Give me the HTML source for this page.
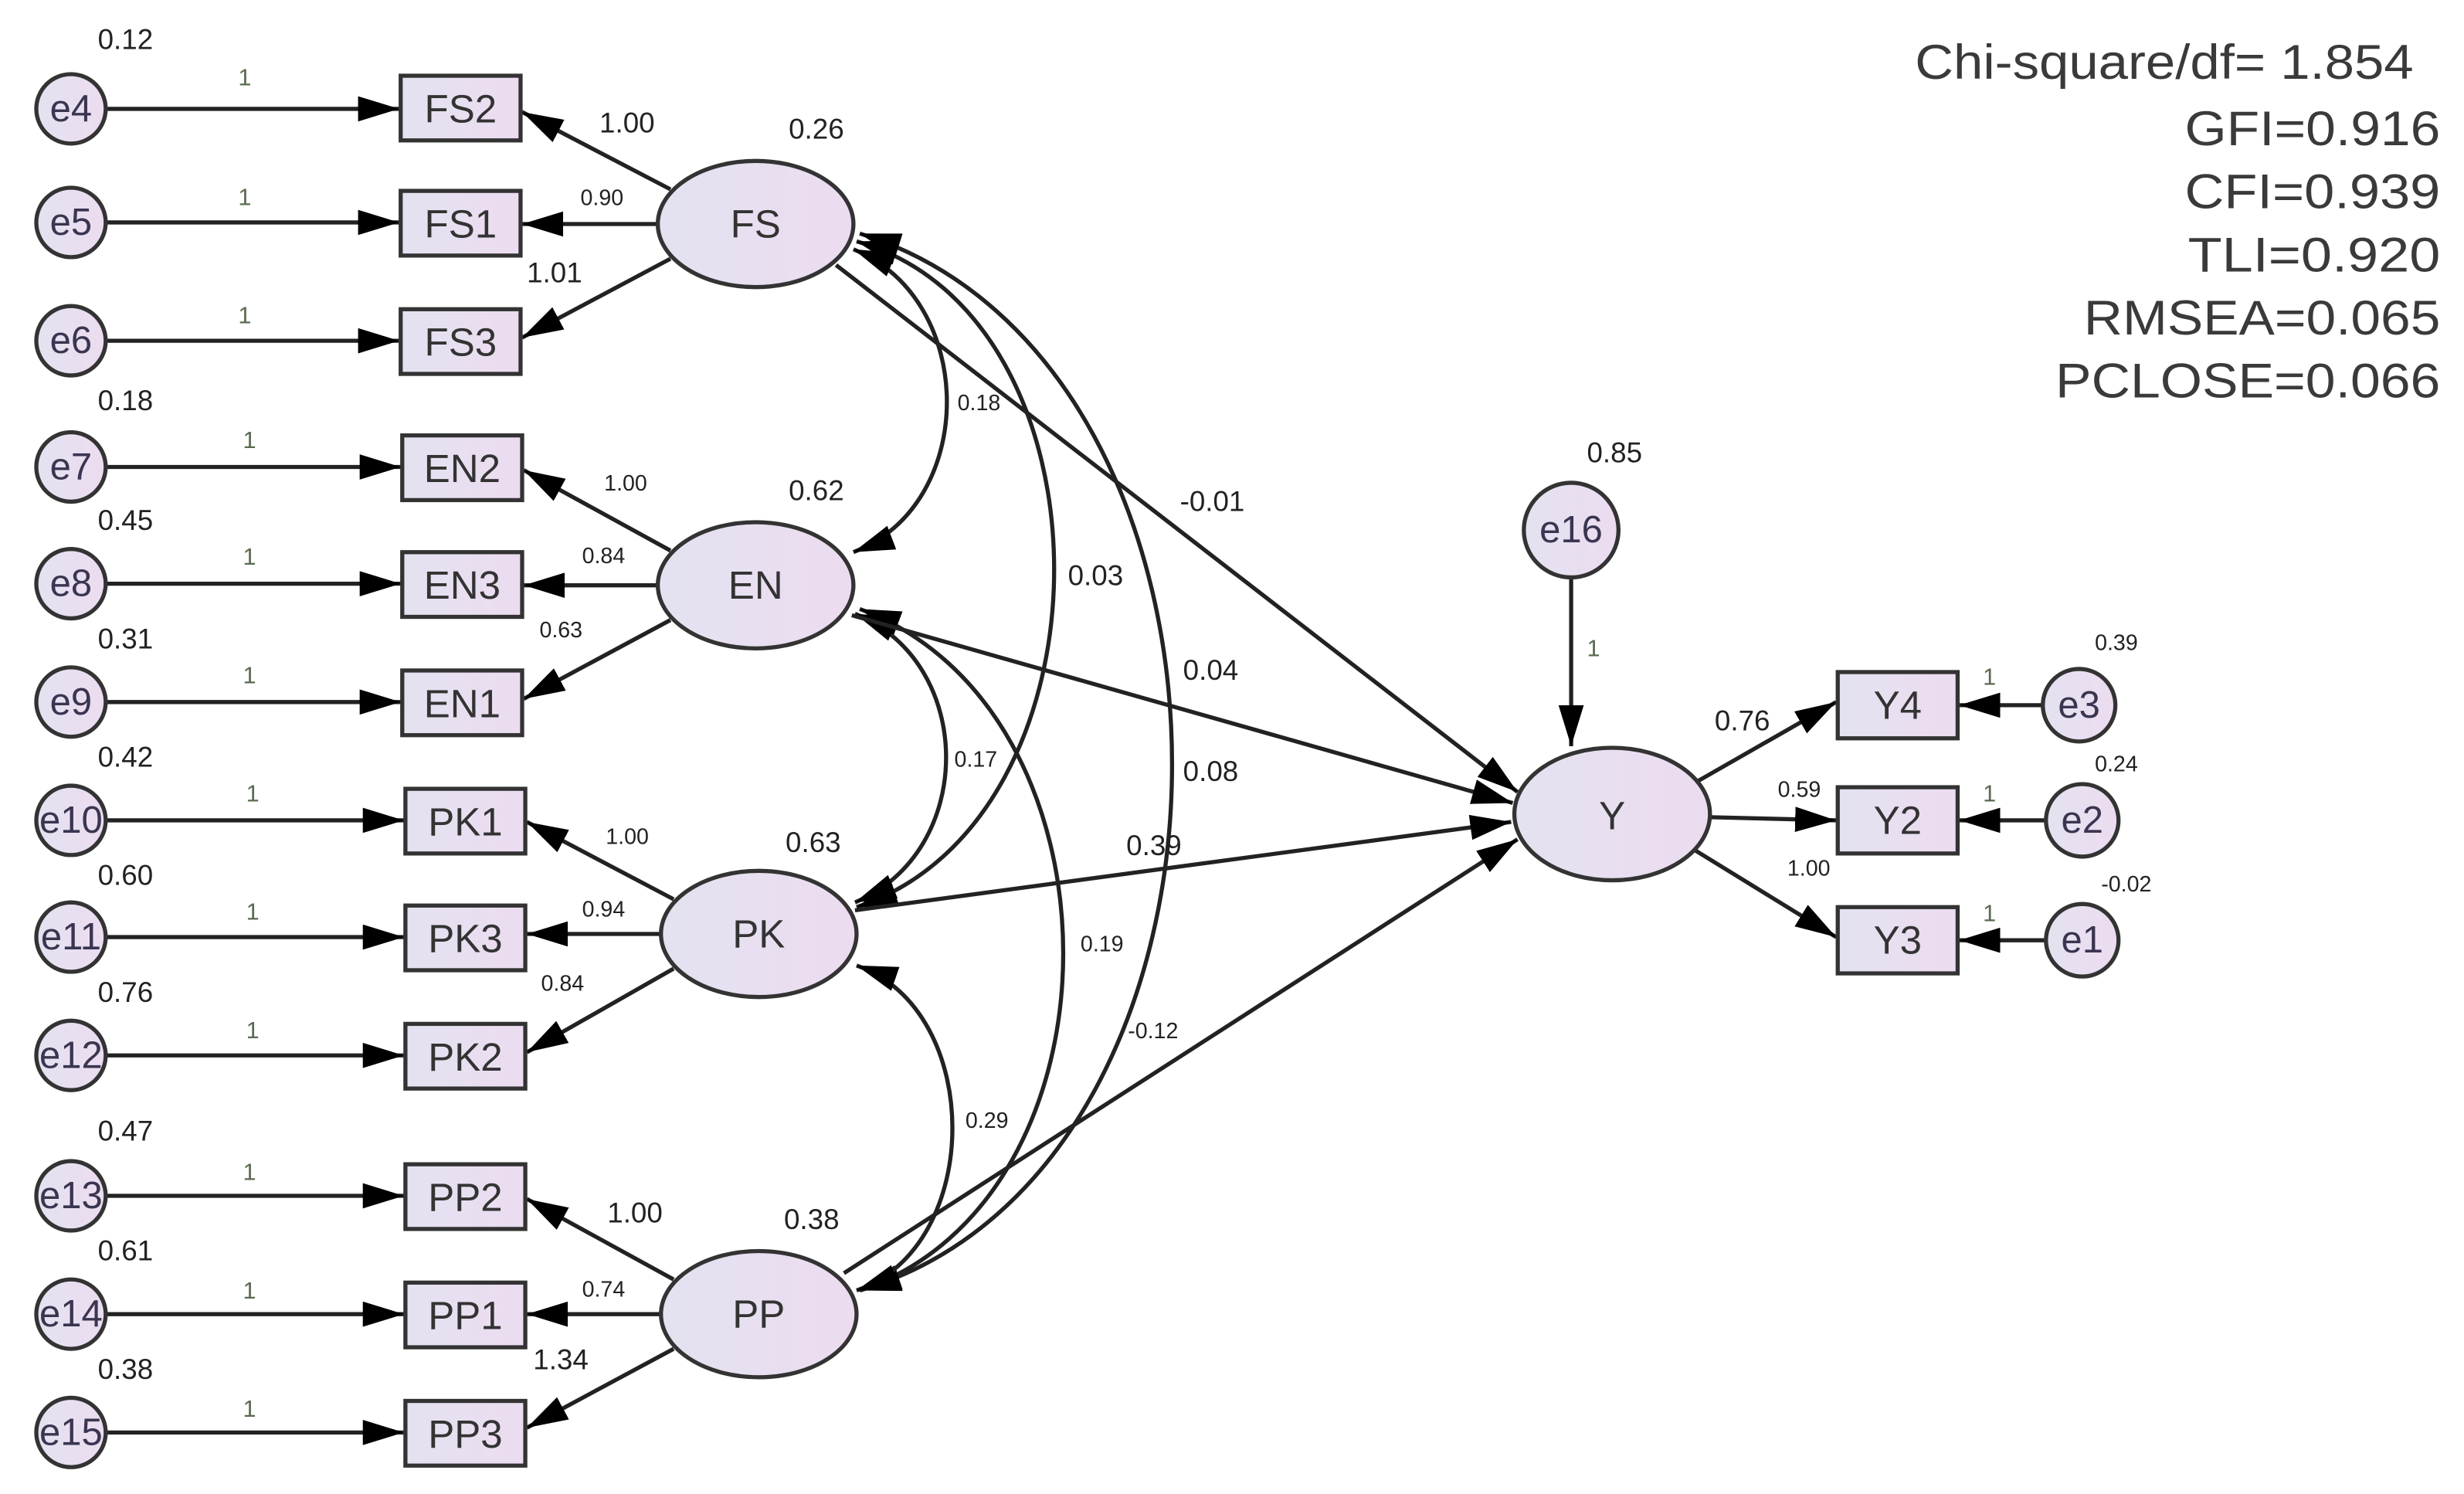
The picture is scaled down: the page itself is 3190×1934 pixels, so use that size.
<!DOCTYPE html>
<html><head><meta charset="utf-8"><style>
html,body{margin:0;padding:0;background:#fff;}
svg{display:block;}
text{font-family:"Liberation Sans",sans-serif;}
.n{font-size:25px;fill:#333;text-anchor:middle;dominant-baseline:central;}
.e{font-size:24px;fill:#3a3550;text-anchor:middle;dominant-baseline:central;}
.l{font-size:18px;fill:#222;}
.s{font-size:14px;fill:#222;}
.o{font-size:15px;fill:#5a6a50;}
.f{font-size:31px;fill:#3a3a3a;text-anchor:end;}
</style></head><body>
<svg width="3190" height="1934" viewBox="0 0 1562 947" xmlns="http://www.w3.org/2000/svg">
<defs>
<linearGradient id="g" x1="0" x2="1"><stop offset="0" stop-color="#e4e2f0"/><stop offset="1" stop-color="#ecdcf0"/></linearGradient>
<marker id="b" viewBox="0 0 26 16" refX="26" refY="8" markerWidth="26" markerHeight="16" markerUnits="userSpaceOnUse" orient="auto-start-reverse"><path d="M0,0 L26,8 L0,16 z" fill="#000"/></marker>
</defs>
<g stroke="#222" stroke-width="2.6" fill="none">
<path d="M68,69 H253" marker-end="url(#b)"/>
<path d="M68,141 H253" marker-end="url(#b)"/>
<path d="M68,216 H253" marker-end="url(#b)"/>
<path d="M68,296 H254" marker-end="url(#b)"/>
<path d="M68,370 H254" marker-end="url(#b)"/>
<path d="M68,445 H254" marker-end="url(#b)"/>
<path d="M68,520 H256" marker-end="url(#b)"/>
<path d="M68,594 H256" marker-end="url(#b)"/>
<path d="M68,669 H256" marker-end="url(#b)"/>
<path d="M68,758 H256" marker-end="url(#b)"/>
<path d="M68,833 H256" marker-end="url(#b)"/>
<path d="M68,908 H256" marker-end="url(#b)"/>
<path d="M425,120 L331,71" marker-end="url(#b)"/>
<path d="M417,142 L331,142" marker-end="url(#b)"/>
<path d="M425,164 L331,214" marker-end="url(#b)"/>
<path d="M425,349 L332,298" marker-end="url(#b)"/>
<path d="M417,371 L332,371" marker-end="url(#b)"/>
<path d="M425,393 L332,443" marker-end="url(#b)"/>
<path d="M427,570 L334,521" marker-end="url(#b)"/>
<path d="M419,592 L334,592" marker-end="url(#b)"/>
<path d="M427,614 L334,667" marker-end="url(#b)"/>
<path d="M427,811 L334,760" marker-end="url(#b)"/>
<path d="M419,833 L334,833" marker-end="url(#b)"/>
<path d="M427,855 L334,905" marker-end="url(#b)"/>
<path d="M541,158 C620,190 620,320 541,350" marker-start="url(#b)" marker-end="url(#b)"/>
<path d="M543,153 C710,200 710,520 543,575" marker-start="url(#b)" marker-end="url(#b)"/>
<path d="M545,148 C809,230 809,740 545,818" marker-start="url(#b)" marker-end="url(#b)"/>
<path d="M542,389 C619,420 619,540 542,572" marker-start="url(#b)" marker-end="url(#b)"/>
<path d="M545,386 C717,450 717,760 545,818" marker-start="url(#b)" marker-end="url(#b)"/>
<path d="M543,612 C624,640 624,790 543,818" marker-start="url(#b)" marker-end="url(#b)"/>
<path d="M530,168 L962,502" marker-end="url(#b)"/>
<path d="M540,390 L959,509" marker-end="url(#b)"/>
<path d="M542,577 L958,521" marker-end="url(#b)"/>
<path d="M535,807 L962,532" marker-end="url(#b)"/>
<path d="M996,366 L996,473" marker-end="url(#b)"/>
<path d="M1073,497 L1164,445" marker-end="url(#b)"/>
<path d="M1084,518 L1164,520" marker-end="url(#b)"/>
<path d="M1073,538 L1164,594" marker-end="url(#b)"/>
<path d="M1295,447 L1242,447" marker-end="url(#b)"/>
<path d="M1297,520 L1242,520" marker-end="url(#b)"/>
<path d="M1297,596 L1242,596" marker-end="url(#b)"/>
</g>
<g stroke="#333" stroke-width="2.6" fill="url(#g)">
<circle cx="45" cy="69" r="22"/><circle cx="45" cy="141" r="22"/><circle cx="45" cy="216" r="22"/>
<circle cx="45" cy="296" r="22"/><circle cx="45" cy="370" r="22"/><circle cx="45" cy="445" r="22"/>
<circle cx="45" cy="520" r="22"/><circle cx="45" cy="594" r="22"/><circle cx="45" cy="669" r="22"/>
<circle cx="45" cy="758" r="22"/><circle cx="45" cy="833" r="22"/><circle cx="45" cy="908" r="22"/>
<rect x="254" y="48" width="76" height="41"/><rect x="254" y="121" width="76" height="41"/><rect x="254" y="196" width="76" height="41"/>
<rect x="255" y="276" width="76" height="41"/><rect x="255" y="350" width="76" height="41"/><rect x="255" y="425" width="76" height="41"/>
<rect x="257" y="500" width="76" height="41"/><rect x="257" y="574" width="76" height="41"/><rect x="257" y="649" width="76" height="41"/>
<rect x="257" y="738" width="76" height="41"/><rect x="257" y="813" width="76" height="41"/><rect x="257" y="888" width="76" height="41"/>
<ellipse cx="479" cy="142" rx="62" ry="40"/><ellipse cx="479" cy="371" rx="62" ry="40"/>
<ellipse cx="481" cy="592" rx="62" ry="40"/><ellipse cx="481" cy="833" rx="62" ry="40"/>
<ellipse cx="1022" cy="516" rx="62" ry="42"/><circle cx="996" cy="336" r="30"/>
<rect x="1165" y="426" width="76" height="42"/><rect x="1165" y="499" width="76" height="42"/><rect x="1165" y="575" width="76" height="42"/>
<circle cx="1318" cy="447" r="23"/><circle cx="1320" cy="520" r="23"/><circle cx="1320" cy="596" r="23"/>
</g>
<g class="e">
<text x="45" y="69">e4</text><text x="45" y="141">e5</text><text x="45" y="216">e6</text>
<text x="45" y="296">e7</text><text x="45" y="370">e8</text><text x="45" y="445">e9</text>
<text x="45" y="520">e10</text><text x="45" y="594">e11</text><text x="45" y="669">e12</text>
<text x="45" y="758">e13</text><text x="45" y="833">e14</text><text x="45" y="908">e15</text>
<text x="996" y="336">e16</text><text x="1318" y="447">e3</text><text x="1320" y="520">e2</text><text x="1320" y="596">e1</text>
</g>
<g class="n">
<text x="292" y="69">FS2</text><text x="292" y="142">FS1</text><text x="292" y="217">FS3</text>
<text x="293" y="297">EN2</text><text x="293" y="371">EN3</text><text x="293" y="446">EN1</text>
<text x="295" y="521">PK1</text><text x="295" y="595">PK3</text><text x="295" y="670">PK2</text>
<text x="295" y="759">PP2</text><text x="295" y="834">PP1</text><text x="295" y="909">PP3</text>
<text x="479" y="142">FS</text><text x="479" y="371">EN</text><text x="481" y="592">PK</text><text x="481" y="833">PP</text>
<text x="1022" y="517">Y</text>
<text x="1203" y="447">Y4</text><text x="1203" y="520">Y2</text><text x="1203" y="596">Y3</text>
</g>
<g class="o">
<text x="151" y="54">1</text><text x="151" y="130">1</text><text x="151" y="205">1</text>
<text x="154" y="284">1</text><text x="154" y="358">1</text><text x="154" y="433">1</text>
<text x="156" y="508">1</text><text x="156" y="583">1</text><text x="156" y="658">1</text>
<text x="154" y="748">1</text><text x="154" y="823">1</text><text x="154" y="898">1</text>
<text x="1006" y="416">1</text><text x="1257" y="434">1</text><text x="1257" y="508">1</text><text x="1257" y="584">1</text>
</g>
<g class="l">
<text x="62" y="31">0.12</text><text x="380" y="84">1.00</text><text x="334" y="179">1.01</text><text x="500" y="88">0.26</text>
<text x="62" y="260">0.18</text><text x="62" y="336">0.45</text><text x="62" y="411">0.31</text><text x="500" y="317">0.62</text>
<text x="62" y="486">0.42</text><text x="62" y="561">0.60</text><text x="62" y="635">0.76</text><text x="498" y="540">0.63</text>
<text x="62" y="723">0.47</text><text x="62" y="799">0.61</text><text x="62" y="874">0.38</text><text x="497" y="779">0.38</text>
<text x="385" y="775">1.00</text><text x="338" y="868">1.34</text>
<text x="677" y="371">0.03</text><text x="748" y="324">-0.01</text><text x="750" y="431">0.04</text><text x="750" y="495">0.08</text>
<text x="714" y="542">0.39</text><text x="1006" y="293">0.85</text><text x="1087" y="463">0.76</text>
</g>
<g class="s">
<text x="368" y="130">0.90</text>
<text x="383" y="311">1.00</text><text x="369" y="357">0.84</text><text x="342" y="404">0.63</text>
<text x="384" y="535">1.00</text><text x="369" y="581">0.94</text><text x="343" y="628">0.84</text>
<text x="369" y="822">0.74</text>
<text x="607" y="260">0.18</text><text x="605" y="486">0.17</text><text x="685" y="603">0.19</text><text x="612" y="715">0.29</text><text x="715" y="658">-0.12</text>
<text x="1127" y="505">0.59</text><text x="1133" y="555">1.00</text>
<text x="1328" y="412">0.39</text><text x="1328" y="489">0.24</text><text x="1332" y="565">-0.02</text>
</g>
<g class="f">
<text x="1530" y="50" textLength="316" lengthAdjust="spacingAndGlyphs">Chi-square/df= 1.854</text>
<text x="1547" y="92" textLength="162" lengthAdjust="spacingAndGlyphs">GFI=0.916</text>
<text x="1547" y="132" textLength="162" lengthAdjust="spacingAndGlyphs">CFI=0.939</text>
<text x="1547" y="172" textLength="160" lengthAdjust="spacingAndGlyphs">TLI=0.920</text>
<text x="1547" y="212" textLength="226" lengthAdjust="spacingAndGlyphs">RMSEA=0.065</text>
<text x="1547" y="252" textLength="244" lengthAdjust="spacingAndGlyphs">PCLOSE=0.066</text>
</g>
</svg>
</body></html>
